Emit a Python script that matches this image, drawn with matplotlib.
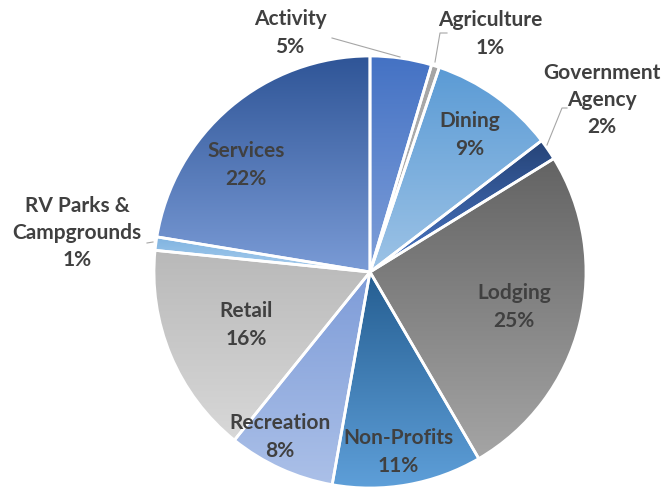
import numpy as np
import matplotlib
matplotlib.use("Agg")
import matplotlib.pyplot as plt
from matplotlib.colors import LinearSegmentedColormap

plt.rcParams['font.family'] = ['Lato', 'DejaVu Sans']

# 数据（顺时针，从正上方开始）
categories = ["Activity", "Agriculture", "Dining", "Government\nAgency", "Lodging",
              "Non-Profits", "Recreation", "Retail", "RV Parks &\nCampgrounds", "Services"]
shares = [4.6, 0.6, 9.4, 1.6, 25.4, 11.2, 8.0, 15.8, 1.0, 22.4]
pct_labels = ["5%", "1%", "9%", "2%", "25%", "11%", "8%", "16%", "1%", "22%"]

# 渐变色：上 -> 下
grad_top = ["#4472C4", "#A5A5A5", "#5B9BD5", "#264478", "#636363",
            "#255E91", "#7E9CD8", "#B9B9B9", "#7FB3E0", "#2F5597"]
grad_bottom = ["#7F9FD9", "#B5B5B5", "#9DC3E6", "#4A77C6", "#A5A5A5",
               "#5E9FD9", "#ABC0E8", "#D8D8D8", "#A8CDEE", "#7A9BD6"]

W, H = 663, 488
cx, cy, R = 370, 216, 216

# 标签中心（像素，y 向上）以及外部标签的引线
label_pos = {
    "Activity": (290, 455), "Agriculture": (490, 454), "Dining": (470, 353),
    "Government\nAgency": (602, 388), "Lodging": (514, 181), "Non-Profits": (398, 36),
    "Recreation": (280, 51), "Retail": (246, 163), "RV Parks &\nCampgrounds": (77, 255),
    "Services": (246, 323),
}
leaders = {
    "Activity": [(400, 431), (332, 450)],
    "Agriculture": [(435, 426), (440, 455), (447, 455)],
    "Government\nAgency": [(547, 343), (562, 380), (567, 380)],
    "RV Parks &\nCampgrounds": [(153, 246), (147, 245)],
}

fig = plt.figure(figsize=(W / 100, H / 100), dpi=100)
ax = fig.add_axes([0, 0, 1, 1])
ax.set_xlim(0, W)
ax.set_ylim(0, H)
ax.set_aspect('equal')
ax.axis('off')

wedges, _ = ax.pie(shares, startangle=90, counterclock=False, center=(cx, cy),
                   radius=R, wedgeprops=dict(edgecolor='white', linewidth=2))

grad = np.linspace(0, 1, 256).reshape(-1, 1)
for w, top, bot in zip(wedges, grad_top, grad_bottom):
    w.set_facecolor('none')
    ext = w.get_path().get_extents(w.get_patch_transform())
    cmap = LinearSegmentedColormap.from_list('g', [bot, top])
    im = ax.imshow(grad, cmap=cmap, aspect='auto', origin='lower',
                   extent=(ext.x0, ext.x1, ext.y0, ext.y1), zorder=1)
    im.set_clip_path(w)
    w.set_zorder(2)

txt = dict(fontsize=15, fontweight='bold', color='#404040',
           ha='center', va='center', linespacing=1.45, zorder=5)
for name, pct in zip(categories, pct_labels):
    tx, ty = label_pos[name]
    ax.text(tx, ty, name + "\n" + pct, **txt)
    if name in leaders:
        xs, ys = zip(*leaders[name])
        ax.plot(xs, ys, color='#A6A6A6', lw=0.8, zorder=4)

ax.set_xlim(0, W)
ax.set_ylim(0, H)
fig.savefig("out.png", dpi=100)
